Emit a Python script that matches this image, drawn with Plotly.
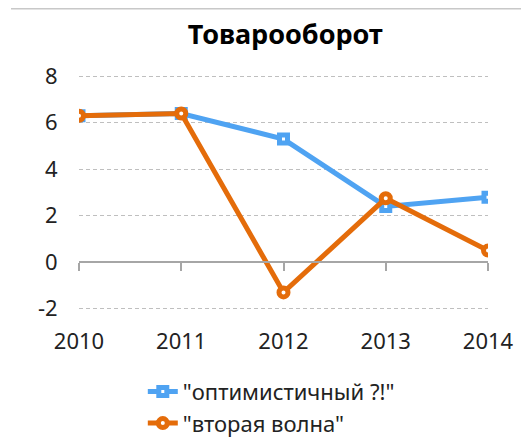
import plotly.graph_objects as go

years = ["2010", "2011", "2012", "2013", "2014"]
optimistic = [6.3, 6.4, 5.3, 2.4, 2.8]
second_wave = [6.3, 6.4, -1.3, 2.75, 0.5]
y_ticks = [-2, 0, 2, 4, 6, 8]
y_tick_labels = ["-2", "0", "2", "4", "6", "8"]

FONT = "Noto Sans"
BLUE = "#4fa3f2"
ORANGE = "#e46c0a"

fig = go.Figure()
fig.add_trace(go.Scatter(
    x=years, y=optimistic, name='"оптимистичный ?!"', mode="lines+markers",
    line=dict(color=BLUE, width=5),
    marker=dict(symbol="square", size=8, color="white", line=dict(color=BLUE, width=5)),
))
fig.add_trace(go.Scatter(
    x=years, y=second_wave, name='"вторая волна"', mode="lines+markers",
    line=dict(color=ORANGE, width=5),
    marker=dict(symbol="circle", size=9, color="white", line=dict(color=ORANGE, width=5)),
))
# invisible trace to host the zero axis with tick marks
fig.add_trace(go.Scatter(x=years, y=[None]*5, xaxis="x2", showlegend=False, hoverinfo="skip"))

y_lo, y_hi = -2.1, 8.1
zero_pos = (0 - y_lo) / (y_hi - y_lo)
L, T, PW, PH = 71, 66, 409, 237

fig.update_layout(
    width=529, height=446,
    margin=dict(l=L, r=529 - L - PW, t=T, b=446 - T - PH, autoexpand=False),
    paper_bgcolor="white", plot_bgcolor="white",
    font=dict(family=FONT, color="#222222", size=22),
    title=dict(text="<b>Товарооборот</b>", x=0.524, xanchor="center", y=0.94, yanchor="middle",
               font=dict(family=FONT, size=27, color="black")),
    xaxis=dict(type="category", range=[0, 4], showline=False, showgrid=False, zeroline=False,
               automargin=False, tickangle=0,
               ticks="outside", ticklen=11, tickcolor="rgba(0,0,0,0)",
               tickfont=dict(size=22, color="#222222")),
    xaxis2=dict(type="category", range=[0, 4], overlaying="x", anchor="free", position=zero_pos,
                side="bottom", showline=True, linecolor="#a6a6a6", linewidth=1.5,
                automargin=False,
                ticks="outside", ticklen=8, tickcolor="#a6a6a6", tickwidth=1.5,
                showticklabels=False, showgrid=False, zeroline=False),
    yaxis=dict(range=[y_lo, y_hi], tickvals=y_ticks, ticktext=y_tick_labels,
               showgrid=True, gridcolor="#bfbfbf",
               griddash="4px,3px", gridwidth=1, zeroline=False, showline=False,
               automargin=False,
               ticks="outside", ticklen=16, tickcolor="rgba(0,0,0,0)",
               tickfont=dict(size=22, color="#222222")),
    legend=dict(x=0.156, y=-0.252, xanchor="left", yanchor="top", orientation="v",
                font=dict(size=22, color="#222222"), tracegroupgap=0, itemwidth=30,
                bgcolor="rgba(0,0,0,0)"),
    shapes=[dict(type="line", xref="paper", yref="paper", x0=(3 - L) / PW, x1=(529 - L) / PW,
                 y0=1 + (T - 0.75) / PH, y1=1 + (T - 0.75) / PH,
                 line=dict(color="#c8c8c8", width=1.5))],
)

fig.write_html("out.html")
